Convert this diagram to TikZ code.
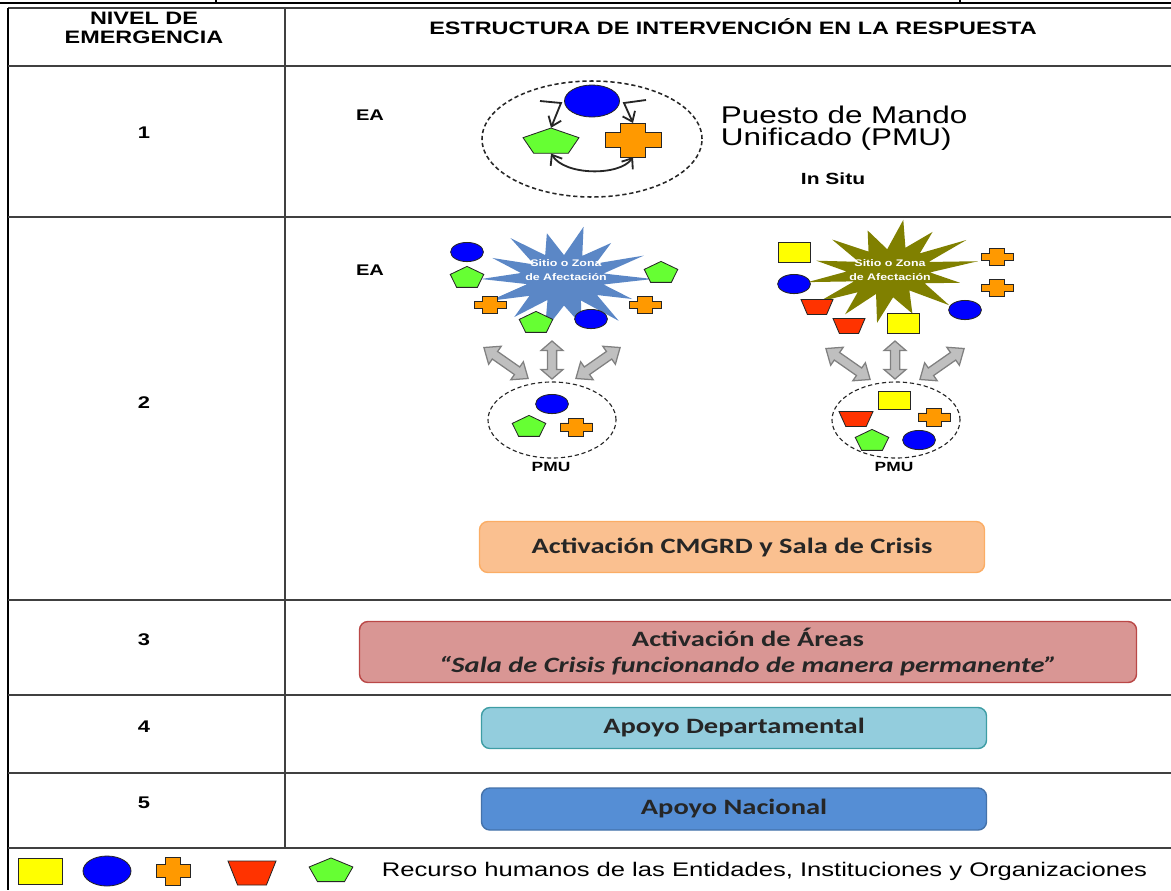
\documentclass[tikz,border=0pt]{standalone}
\usepackage{fontspec}
\setmainfont{Liberation Sans}[FakeStretch=1.3]
\newfontfamily\calibri{Carlito}[FakeStretch=1.3]
\usepackage{tikz}
\usetikzlibrary{arrows.meta,shapes.geometric}
\definecolor{PmuBlue}{HTML}{0000FF}
\definecolor{PmuGreen}{HTML}{66FF33}
\definecolor{PmuOrange}{HTML}{FF9900}
\definecolor{PmuRed}{HTML}{FF3300}
\definecolor{PmuYellow}{HTML}{FFFF00}
\definecolor{ZonaBlue}{HTML}{5B87C6}
\definecolor{ZonaOlive}{HTML}{808000}
\definecolor{CajaOrange}{HTML}{FAC090}
\definecolor{CajaRed}{HTML}{D99694}
\definecolor{CajaCyan}{HTML}{93CDDD}
\definecolor{CajaBlue}{HTML}{558ED5}
\tikzset{
  tabla/.style={draw=black!75,line width=1.1pt},
  borde/.style={draw=black,line width=1.6pt},
  cabecera/.style={font=\fontsize{12.8}{14}\selectfont\bfseries,align=center},
  nivel/.style={font=\fontsize{12}{13}\selectfont\bfseries},
  etiqueta/.style={font=\fontsize{11}{12}\selectfont\bfseries},
  rec/.style={draw=black!85,line width=0.6pt},
  bola/.style={rec,ellipse,fill=PmuBlue,inner sep=0,minimum width=8.2mm,minimum height=4.8mm},
  cuadro/.style={rec,rectangle,fill=PmuYellow,inner sep=0,minimum width=8mm,minimum height=5mm},
  penta/.style={rec,regular polygon,regular polygon sides=5,fill=PmuGreen,inner sep=0,
    minimum size=8.8mm,yscale=0.66},
  cruz/.pic={
    \draw[rec,fill=PmuOrange] (-1,-.45) -- (-.45,-.45) -- (-.45,-1) -- (.45,-1) -- (.45,-.45)
      -- (1,-.45) -- (1,.45) -- (.45,.45) -- (.45,1) -- (-.45,1) -- (-.45,.45) -- (-1,.45) -- cycle;
    \coordinate (-n) at (0,-1);
    \coordinate (-s) at (0,1);
  },
  vaso/.pic={
    \draw[rec,fill=PmuRed] (-1,-1) -- (1,-1) -- (.6,1) -- (-.6,1) -- cycle;
  },
  doble/.pic={
    \draw[draw=black!50,fill=black!25,line width=0.9pt,line join=miter]
      (-1,0) -- (-.5,-1) -- (-.5,-.42) -- (.5,-.42) -- (.5,-1) -- (1,0)
      -- (.5,1) -- (.5,.42) -- (-.5,.42) -- (-.5,1) -- cycle;
  },
  estallido/.pic={
    \path[pic actions] plot[variable=\k,samples at={0,...,27}]
      ({(1-0.5*mod(\k,2))*(1+0.08*cos(\k*97))*cos(\k*360/28)},
       {(1-0.5*mod(\k,2))*(1+0.08*cos(\k*97))*sin(\k*360/28)}) -- cycle;
  },
  zonaTxt/.style={font=\fontsize{6.8}{10}\selectfont\bfseries,text=white,align=center},
  circulo/.style={ellipse,draw=black!85,line width=1.1pt,dash pattern=on 3pt off 2pt,inner sep=0},
  circuloPMU/.style={ellipse,draw=black!85,line width=0.8pt,densely dashed,inner sep=0,
    minimum width=32mm,minimum height=19mm},
  enlace/.style={-{Straight Barb[length=2.2mm,width=3.4mm]},line width=1.3pt,draw=black!85},
  franja/.style={rounded corners=6pt,line width=1pt,align=center,text=black!85,
    font=\calibri\bfseries\fontsize{15.6}{18}\selectfont}
}
\begin{document}
\begin{tikzpicture}[x=0.25mm,y=-0.25mm]
  \useasboundingbox (0,0) rectangle (1171,890);
  % table frame
  \draw[borde] (0,3) -- (1171,3);
  \draw[borde] (216,0) -- (216,3);
  \draw[borde] (960,0) -- (960,3);
  \draw[tabla] (8,8) -- (1171,8);
  \draw[borde] (8,8) -- (8,890);
  \draw[tabla] (285,8) -- (285,848);
  \foreach \y in {66,217,600,695,773,848}
    \draw[tabla] (8,\y) -- (1171,\y);

  \node[cabecera] (hNivel) at (144,28) {NIVEL DE\\EMERGENCIA};
  \node[cabecera] (hEstructura) at (733,27) {ESTRUCTURA DE INTERVENCIÓN EN LA RESPUESTA};
  \node[nivel] (n1) at (144,133) {1};
  \node[nivel] (n2) at (144,403) {2};
  \node[nivel] (n3) at (144,640) {3};
  \node[nivel] (n4) at (144,727) {4};
  \node[nivel] (n5) at (144,803) {5};

  % level 1
  \node[etiqueta] (ea1) at (370,115) {EA};
  \node[circulo,minimum width=55mm,minimum height=29mm] (pmuA) at (592,139) {};
  \node[bola,minimum width=13.75mm,minimum height=8mm] (bA) at (592,101) {};
  \node[penta,minimum size=14.7mm,yscale=0.72] (gA) at (551,142) {};
  \pic[xscale=28,yscale=17] (oA) at (633,140) {cruz};
  \coordinate (tIzq) at (540,101);
  \coordinate (tDer) at (646,100);
  \draw[enlace] (tIzq) -- (561,103) -- (gA.north);
  \draw[enlace] (tDer) -- (624,103) -- (oA-n);
  \draw[enlace,{Straight Barb[length=2.2mm,width=3.4mm]}-{Straight Barb[length=2.2mm,width=3.4mm]}]
    (gA.south) .. controls (565,176) and (620,176) .. (oA-s);
  \node[anchor=west,align=left,font=\fontsize{17.2}{16}\selectfont] (mando) at (716,128)
    {Puesto de Mando\\Unificado (PMU)};
  \node[etiqueta,font=\fontsize{11.5}{13}\selectfont\bfseries] (situ) at (833,179) {In Situ};

  % level 2, left group
  \node[etiqueta] (ea2) at (370,270) {EA};
  \pic[xscale=82,yscale=50,fill=ZonaBlue] (zA) at (564,279) {estallido};
  \node[zonaTxt] (zonaA) at (566,270) {Sitio o Zona\\de Afectación};
  \node[bola] (b1) at (467,252) {};
  \node[penta] (g1) at (467,278) {};
  \pic[xscale=16,yscale=8.5] (o1) at (490,305) {cruz};
  \node[penta] (g2) at (536,323) {};
  \node[bola] (b2) at (591,319) {};
  \node[penta] (g3) at (661,273) {};
  \pic[xscale=16,yscale=8.5] (o2) at (645,305) {cruz};
  \pic[rotate=-35,xscale=27,yscale=11] (fA1) at (506,363) {doble};
  \pic[rotate=90,xscale=19,yscale=11] (fA2) at (552,360) {doble};
  \pic[rotate=35,xscale=27,yscale=11] (fA3) at (598,363) {doble};
  \node[circuloPMU] (pmuB) at (552,420) {};
  \node[bola] (b3) at (552,404) {};
  \node[penta] (g4) at (529,427) {};
  \pic[xscale=16,yscale=9] (o3) at (576,427) {cruz};
  \node[etiqueta,font=\fontsize{9.5}{10}\selectfont\bfseries] (pmuLblA) at (551,467) {PMU};

  % level 2, right group
  \pic[rotate=7,xscale=82,yscale=48,fill=ZonaOlive] (zB) at (890,272) {estallido};
  \node[zonaTxt] (zonaB) at (890,270) {Sitio o Zona\\de Afectación};
  \node[cuadro] (y1) at (794,252) {};
  \node[bola] (b4) at (794,284) {};
  \pic[xscale=16,yscale=7.5] (r1) at (817,307) {vaso};
  \pic[xscale=16,yscale=7.5] (r2) at (849,326) {vaso};
  \node[cuadro] (y2) at (903,323) {};
  \node[bola] (b5) at (965,310) {};
  \pic[xscale=16,yscale=8.5] (o4) at (997,257) {cruz};
  \pic[xscale=16,yscale=8.5] (o5) at (997,288) {cruz};
  \pic[rotate=-35,xscale=27,yscale=11] (fB1) at (848,364) {doble};
  \pic[rotate=90,xscale=19,yscale=11] (fB2) at (895,360) {doble};
  \pic[rotate=35,xscale=27,yscale=11] (fB3) at (942,364) {doble};
  \node[circuloPMU] (pmuC) at (896,420) {};
  \node[cuadro,minimum height=4.5mm] (y3) at (894,400) {};
  \pic[xscale=17,yscale=7.5] (r3) at (856,419) {vaso};
  \pic[xscale=16,yscale=9] (o6) at (934,417) {cruz};
  \node[penta] (g5) at (872,441) {};
  \node[bola] (b6) at (919,440) {};
  \node[etiqueta,font=\fontsize{9.5}{10}\selectfont\bfseries] (pmuLblB) at (894,467) {PMU};

  \node[franja,draw=CajaOrange!70!orange,fill=CajaOrange,minimum width=126.25mm,minimum height=12.75mm]
    (cmgrd) at (732,547) {Activación CMGRD y Sala de Crisis};

  % levels 3 to 5
  \node[franja,draw=CajaRed!60!red!80!black,fill=CajaRed,minimum width=194.25mm,minimum height=15.25mm]
    (areas) at (748,652) {Activación de Áreas\\\itshape “Sala de Crisis funcionando de manera permanente”};
  \node[franja,draw=CajaCyan!60!cyan!70!black,fill=CajaCyan,minimum width=126.25mm,minimum height=10.25mm]
    (depto) at (734,728) {Apoyo Departamental};
  \node[franja,draw=CajaBlue!80!black,fill=CajaBlue,minimum width=126.25mm,minimum height=10.5mm]
    (nacional) at (734,809) {Apoyo Nacional};

  % legend
  \node[cuadro,minimum width=11mm,minimum height=6.5mm] (ly) at (40,871) {};
  \node[bola,minimum width=12mm,minimum height=7.5mm] (lb) at (107,871) {};
  \pic[xscale=17,yscale=14] (lo) at (173,871) {cruz};
  \pic[xscale=24,yscale=12] (lr) at (252,873) {vaso};
  \node[penta,minimum size=11.5mm,yscale=0.86] (lg) at (331,871) {};
  \node[anchor=west,font=\fontsize{14}{15}\selectfont] (leyenda) at (377,871)
    {Recurso humanos de las Entidades, Instituciones y Organizaciones};
\end{tikzpicture}
\end{document}
